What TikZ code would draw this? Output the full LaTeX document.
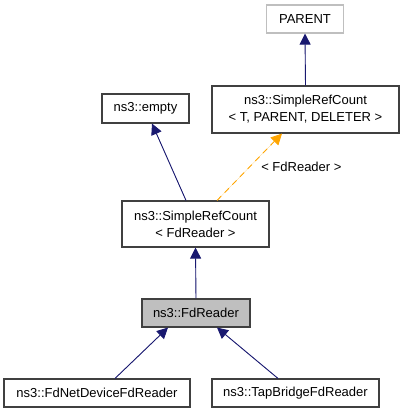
\documentclass[tikz,border=0pt]{standalone}
\usepackage{fontspec}
\setmainfont{Liberation Sans}
\usetikzlibrary{arrows.meta}
\definecolor{edgeblue}{HTML}{191970}
\definecolor{edgeorange}{HTML}{FFA500}
\definecolor{boxborder}{HTML}{404040}
\begin{document}
\begin{tikzpicture}[x=1pt,y=-1pt,
  cls/.style={draw=boxborder,line width=1.1pt,fill=white,inner sep=0pt,font=\fontsize{13}{17}\selectfont,align=center},
  inh/.style={draw=edgeblue,line width=0.9pt,-{Triangle[length=11pt,width=11pt]},fill=edgeblue},
  tmpl/.style={draw=edgeorange,line width=0.9pt,dashed,dash pattern=on 6pt off 5pt,-{Triangle[length=11pt,width=11pt]},fill=edgeorange}]
\useasboundingbox (0,0) rectangle (404,413);
\node[cls,draw=black!25,minimum width=77pt,minimum height=28pt] (parent) at (305,19) {PARENT};
\node[cls,minimum width=187pt,minimum height=47pt] (srcT) at (305.5,109.5) {ns3::SimpleRefCount\\{<} T, PARENT, DELETER {>}};
\node[cls,minimum width=87pt,minimum height=29pt] (empty) at (145.5,108.5) {ns3::empty};
\node[cls,minimum width=147pt,minimum height=46pt] (srcF) at (195.5,224) {ns3::SimpleRefCount\\{<} FdReader {>}};
\node[cls,fill=black!25,minimum width=108pt,minimum height=28pt] (fd) at (196,313) {ns3::FdReader};
\node[cls,minimum width=186pt,minimum height=28pt] (net) at (97,393) {ns3::FdNetDeviceFdReader};
\node[cls,minimum width=167pt,minimum height=28pt] (tap) at (295.5,393) {ns3::TapBridgeFdReader};
\draw[inh] (srcT.north) -- (parent.south);
\draw[inh] ([xshift=-9.5pt]srcF.north) -- ([xshift=6.5pt]empty.south);
\draw[tmpl] ([xshift=21.5pt]srcF.north) -- ([xshift=-23.5pt]srcT.south) node[pos=0.5,right=8pt,font=\fontsize{13}{15}\selectfont,text=black] (lbl) {{<} FdReader {>}};
\draw[inh] (fd.north) -- (srcF.south);
\draw[inh] ([xshift=18pt]net.north) -- ([xshift=-28pt]fd.south);
\draw[inh] ([xshift=-17.5pt]tap.north) -- ([xshift=21pt]fd.south);
\end{tikzpicture}
\end{document}
